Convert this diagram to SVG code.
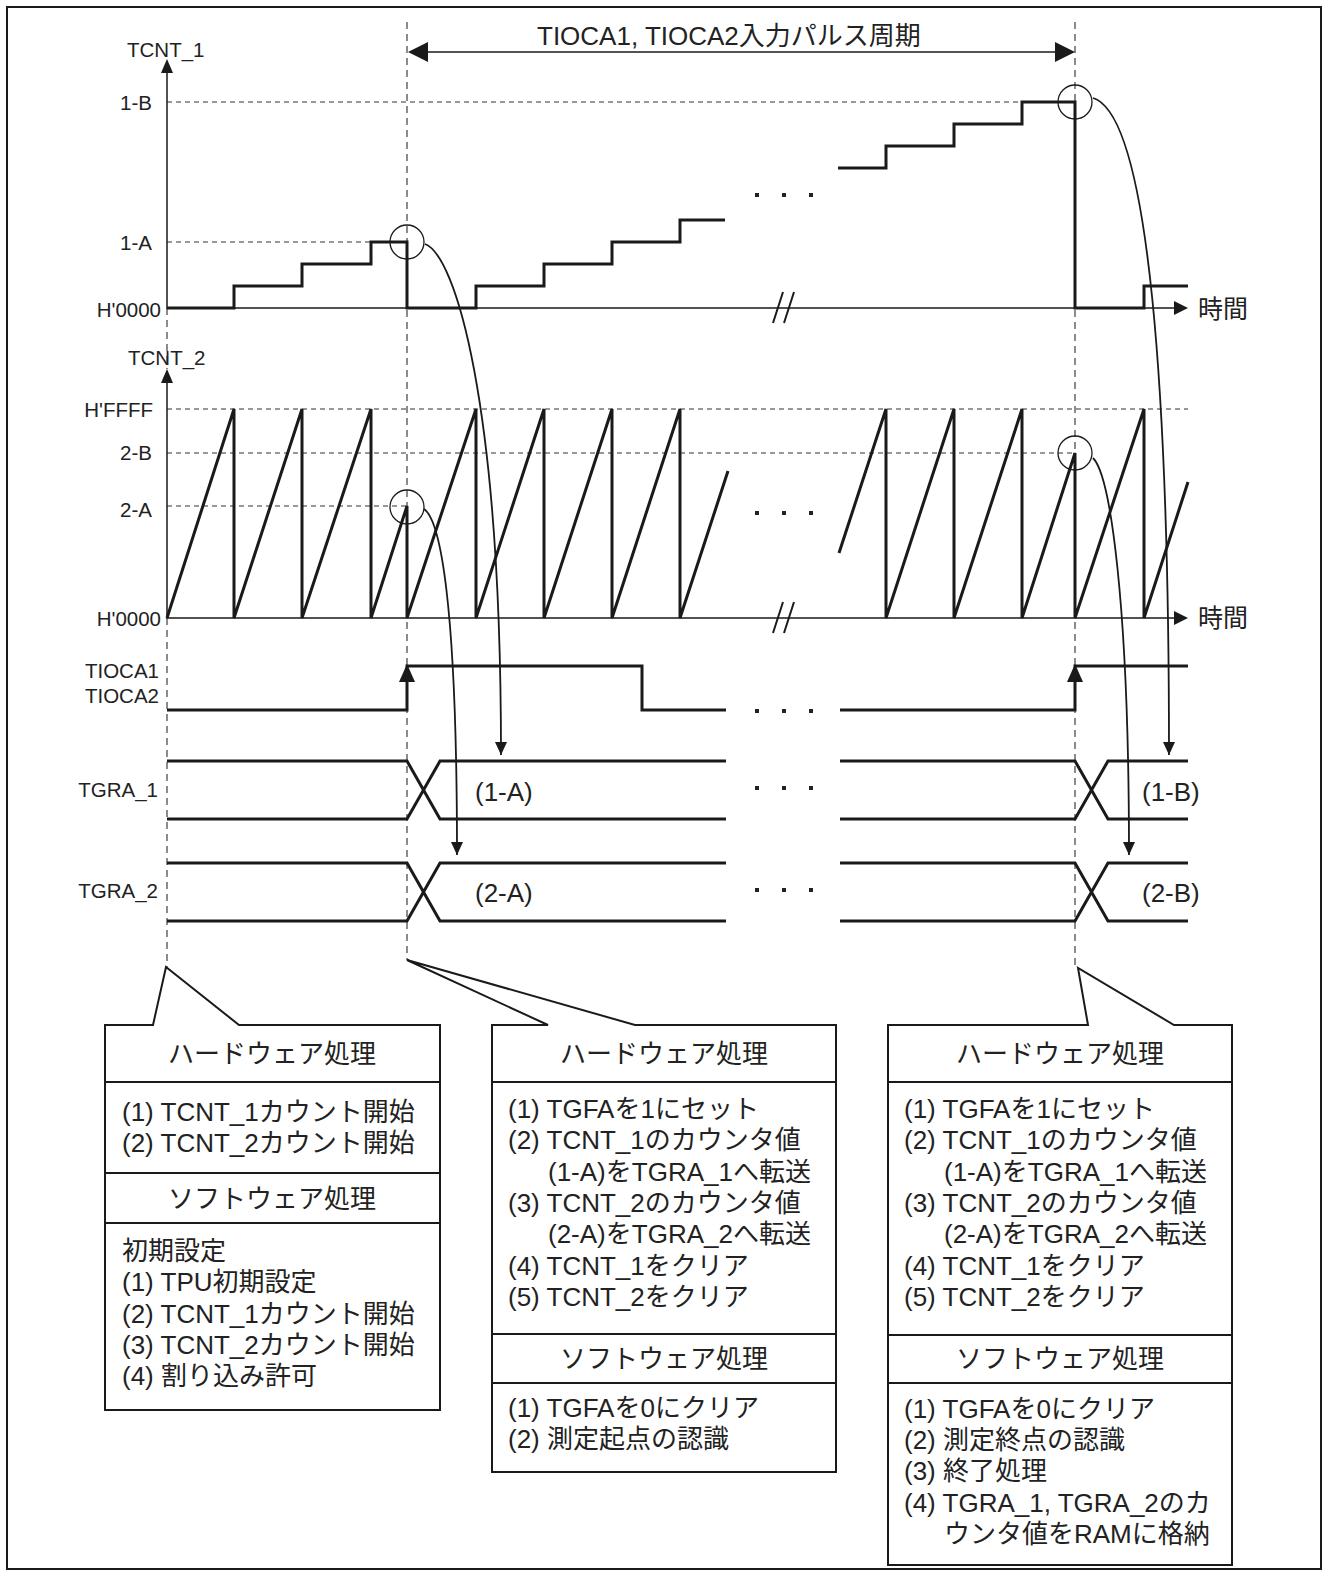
<svg xmlns="http://www.w3.org/2000/svg" width="1324" height="1575" viewBox="0 0 1324 1575">
<style>
text{font-family:"Liberation Sans","Noto Sans CJK JP",sans-serif;fill:#222}
.lbl{font-size:20.5px}
.t{font-size:26px}
.c{text-anchor:middle}
.e{text-anchor:end}
.sig{fill:none;stroke:#1a1a1a;stroke-width:3}
.axis{fill:none;stroke:#1a1a1a;stroke-width:1.5}
.hd{fill:none;stroke:#333;stroke-width:1.2;stroke-dasharray:5 4}
.vd{fill:none;stroke:#666;stroke-width:1.5;stroke-dasharray:7 5}
.circ{fill:none;stroke:#1a1a1a;stroke-width:1.3}
.conn{fill:none;stroke:#1a1a1a;stroke-width:1.8;marker-end:url(#ah)}
.box{fill:#fff;stroke:#1a1a1a;stroke-width:2}
.div{stroke:#1a1a1a;stroke-width:2}
.head{fill:#1a1a1a}
.dot{fill:#222}
.brk{stroke:#1a1a1a;stroke-width:2}
</style>
<defs>
<marker id="ah" markerUnits="userSpaceOnUse" viewBox="0 0 13 12" markerWidth="13" markerHeight="12" refX="13" refY="6" orient="auto">
<path d="M0,0 L13,6 L0,12 Z" fill="#1a1a1a"/>
</marker>
<g id="dots3">
<rect x="-2" y="-2" width="4" height="4"/>
<rect x="25" y="-2" width="4" height="4"/>
<rect x="52" y="-2" width="4" height="4"/>
</g>
</defs>
<rect x="7" y="7" width="1314" height="1562" fill="#fff" stroke="#1a1a1a" stroke-width="2"/>

<g id="guides">
<path class="vd" d="M167,308 V369 M167,618 V967"/>
<path class="vd" d="M407,22 V960"/>
<path class="vd" d="M1075,22 V968"/>
<path class="hd" d="M167,102 H1075 M167,242 H407"/>
<path class="hd" d="M167,409 H1188 M167,453 H1075 M167,506 H407"/>
</g>

<g id="period">
<path class="axis" d="M426,52 H1057"/>
<path class="head" d="M408,52 L428,42 L428,62 Z"/>
<path class="head" d="M1075,52 L1055,42 L1055,62 Z"/>
<text class="t" x="537" y="45">TIOCA1, TIOCA2入力パルス周期</text>
</g>

<g id="tcnt1">
<text class="lbl" x="127" y="57">TCNT_1</text>
<text class="lbl e" x="152" y="110">1-B</text>
<text class="lbl e" x="152" y="250">1-A</text>
<text class="lbl e" x="161" y="317">H'0000</text>
<path class="axis" d="M167,72 V308 H1176"/>
<path class="head" d="M167,59 L161,73 L173,73 Z"/>
<path class="head" d="M1188,308 L1174,301 L1174,315 Z"/>
<text x="1198" y="318" style="font-size:25px">時間</text>
<path class="sig" d="M167,308 H234 V286 H302 V264 H371 V242 H407 V308 H476 V286 H544 V264 H612 V242 H680 V220 H725"/>
<path class="sig" d="M838,168 H886 V146 H954 V124 H1022 V102 H1075 V308 H1144 V286 H1188"/>
<use href="#dots3" class="dot" x="757" y="195"/>
<path class="brk" d="M773,323 L783,292 M784,323 L794,292"/>
<circle class="circ" cx="407" cy="242" r="17"/>
<circle class="circ" cx="1075" cy="102" r="17"/>
</g>

<g id="tcnt2">
<text class="lbl" x="128" y="365">TCNT_2</text>
<text class="lbl e" x="153" y="417">H'FFFF</text>
<text class="lbl e" x="152" y="460">2-B</text>
<text class="lbl e" x="152" y="517">2-A</text>
<text class="lbl e" x="161" y="626">H'0000</text>
<path class="axis" d="M167,382 V618 H1176"/>
<path class="head" d="M167,369 L161,383 L173,383 Z"/>
<path class="head" d="M1188,618 L1174,611 L1174,625 Z"/>
<text x="1198" y="627" style="font-size:25px">時間</text>
<path class="sig" d="M167,618 L234,409 V618 L302,409 V618 L371,409 V618 L407,506 V618 L476,409 V618 L544,409 V618 L612,409 V618 L680,409 V618 L728,471"/>
<path class="sig" d="M839,553 L886,409 V618 L954,409 V618 L1022,409 V618 L1075,453 V618 L1144,409 V618 L1188,482"/>
<use href="#dots3" class="dot" x="757" y="513"/>
<path class="brk" d="M773,633 L783,602 M784,633 L794,602"/>
<circle class="circ" cx="407" cy="507" r="17"/>
<circle class="circ" cx="1075" cy="453" r="17"/>
</g>

<g id="tioca">
<text class="lbl e" x="159" y="678">TIOCA1</text>
<text class="lbl e" x="159" y="703">TIOCA2</text>
<path class="sig" d="M167,710 H407 V666 H642 V710 H726"/>
<path class="sig" d="M840,710 H1075 V666 H1188"/>
<path class="head" d="M407,664 L399,682 L415,682 Z"/>
<path class="head" d="M1075,664 L1067,682 L1083,682 Z"/>
<use href="#dots3" class="dot" x="757" y="711"/>
</g>

<g id="tgra1">
<text class="lbl e" x="158" y="797">TGRA_1</text>
<path class="sig" d="M167,761 H407 L440,819 H726 M167,819 H407 L440,761 H726"/>
<path class="sig" d="M840,761 H1075 L1108,819 H1188 M840,819 H1075 L1108,761 H1188"/>
<use href="#dots3" class="dot" x="757" y="788"/>
<text class="t" x="475" y="801">(1-A)</text>
<text class="t" x="1142" y="801">(1-B)</text>
</g>

<g id="tgra2">
<text class="lbl e" x="158" y="898">TGRA_2</text>
<path class="sig" d="M167,863 H407 L440,921 H726 M167,921 H407 L440,863 H726"/>
<path class="sig" d="M840,863 H1075 L1108,921 H1188 M840,921 H1075 L1108,863 H1188"/>
<use href="#dots3" class="dot" x="757" y="890"/>
<text class="t" x="475" y="902">(2-A)</text>
<text class="t" x="1142" y="902">(2-B)</text>
</g>

<g id="connectors">
<path class="conn" d="M425,244 C455,255 501,400 501,755"/>
<path class="conn" d="M424,509 C440,520 457,600 457,855"/>
<path class="conn" d="M1093,98 C1150,115 1169,400 1169,755"/>
<path class="conn" d="M1093,458 C1110,475 1129,600 1129,855"/>
</g>

<g id="box-start">
<path class="box" d="M153,1025 H105 V1410 H440 V1025 H239 L166,967 Z"/>
<path class="div" d="M105,1082 H440 M105,1173 H440 M105,1223 H440"/>
<text class="t c" x="272" y="1063">ハードウェア処理</text>
<text class="t" x="122" y="1121">(1) TCNT_1カウント開始</text>
<text class="t" x="122" y="1152">(2) TCNT_2カウント開始</text>
<text class="t c" x="272" y="1208">ソフトウェア処理</text>
<text class="t" x="122" y="1260">初期設定</text>
<text class="t" x="122" y="1291">(1) TPU初期設定</text>
<text class="t" x="122" y="1323">(2) TCNT_1カウント開始</text>
<text class="t" x="122" y="1354">(3) TCNT_2カウント開始</text>
<text class="t" x="122" y="1385">(4) 割り込み許可</text>
</g>

<g id="box-first-edge">
<path class="box" d="M548,1025 H492 V1472 H836 V1025 H635 L407,960 Z"/>
<path class="div" d="M492,1082 H836 M492,1334 H836 M492,1383 H836"/>
<text class="t c" x="664" y="1063">ハードウェア処理</text>
<text class="t" x="508" y="1118">(1) TGFAを1にセット</text>
<text class="t" x="508" y="1149">(2) TCNT_1のカウンタ値</text>
<text class="t" x="548" y="1181">(1-A)をTGRA_1へ転送</text>
<text class="t" x="508" y="1212">(3) TCNT_2のカウンタ値</text>
<text class="t" x="548" y="1243">(2-A)をTGRA_2へ転送</text>
<text class="t" x="508" y="1275">(4) TCNT_1をクリア</text>
<text class="t" x="508" y="1306">(5) TCNT_2をクリア</text>
<text class="t c" x="664" y="1368">ソフトウェア処理</text>
<text class="t" x="508" y="1417">(1) TGFAを0にクリア</text>
<text class="t" x="508" y="1448">(2) 測定起点の認識</text>
</g>

<g id="box-second-edge">
<path class="box" d="M1088,1025 H888 V1565 H1232 V1025 H1174 L1078,968 Z"/>
<path class="div" d="M888,1082 H1232 M888,1335 H1232 M888,1383 H1232"/>
<text class="t c" x="1060" y="1063">ハードウェア処理</text>
<text class="t" x="904" y="1118">(1) TGFAを1にセット</text>
<text class="t" x="904" y="1149">(2) TCNT_1のカウンタ値</text>
<text class="t" x="944" y="1181">(1-A)をTGRA_1へ転送</text>
<text class="t" x="904" y="1212">(3) TCNT_2のカウンタ値</text>
<text class="t" x="944" y="1243">(2-A)をTGRA_2へ転送</text>
<text class="t" x="904" y="1275">(4) TCNT_1をクリア</text>
<text class="t" x="904" y="1306">(5) TCNT_2をクリア</text>
<text class="t c" x="1060" y="1368">ソフトウェア処理</text>
<text class="t" x="904" y="1418">(1) TGFAを0にクリア</text>
<text class="t" x="904" y="1449">(2) 測定終点の認識</text>
<text class="t" x="904" y="1480">(3) 終了処理</text>
<text class="t" x="904" y="1512">(4) TGRA_1, TGRA_2のカ</text>
<text class="t" x="944" y="1543">ウンタ値をRAMに格納</text>
</g>
</svg>
